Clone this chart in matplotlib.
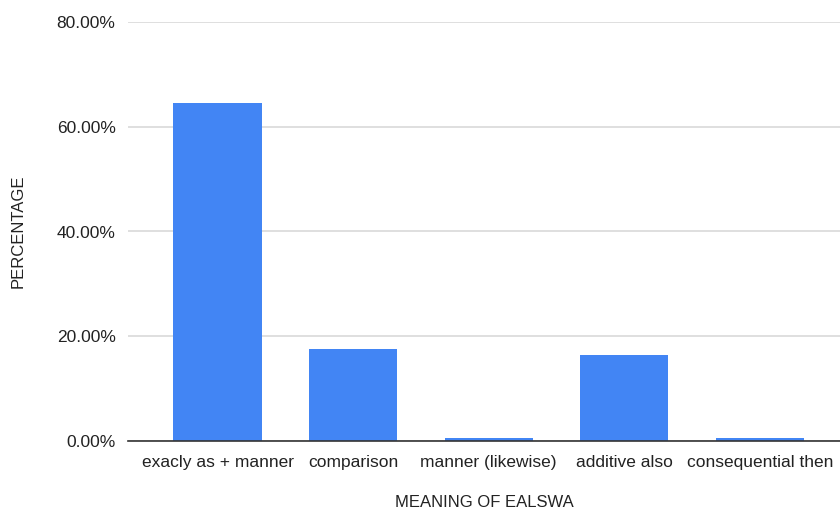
import matplotlib
matplotlib.use("Agg")
import matplotlib.pyplot as plt
from matplotlib.ticker import FuncFormatter

# data
categories = [
    "exacly as + manner",
    "comparison",
    "manner (likewise)",
    "additive also",
    "consequential then",
]
percentages = [64.5, 17.6, 0.6, 16.4, 0.6]
y_ticks = [0, 20, 40, 60, 80]

plt.rcParams["font.family"] = ["Liberation Sans", "DejaVu Sans"]

fig = plt.figure(figsize=(8.4, 5.11), dpi=100)
ax = fig.add_axes([128 / 840, 70 / 511, 1 - 128 / 840, 419 / 511])

x = range(len(categories))
ax.bar(x, percentages, width=0.65, color="#4285f4", zorder=3)

ax.set_xlim(-0.66, 4.59)
ax.set_ylim(0, 80)
ax.set_yticks(y_ticks)
ax.yaxis.set_major_formatter(FuncFormatter(lambda v, _: f"{v:.2f}%"))
ax.set_xticks(list(x))
ax.set_xticklabels(categories)

ax.grid(axis="y", color="#d9d9d9", linewidth=1.2, zorder=0)
for side in ("top", "right", "left"):
    ax.spines[side].set_visible(False)
ax.spines["bottom"].set_color("#333333")
ax.spines["bottom"].set_linewidth(1.2)
ax.spines["bottom"].set_zorder(4)
ax.tick_params(axis="both", length=0, labelsize=12.5, colors="#222222")
ax.tick_params(axis="y", pad=9)
ax.tick_params(axis="x", pad=10)

ax.set_xlabel("MEANING OF EALSWA", fontsize=12, color="#222222", labelpad=18)
ax.set_ylabel("PERCENTAGE", fontsize=12, color="#222222", labelpad=22)

fig.savefig("out.png", dpi=100)
